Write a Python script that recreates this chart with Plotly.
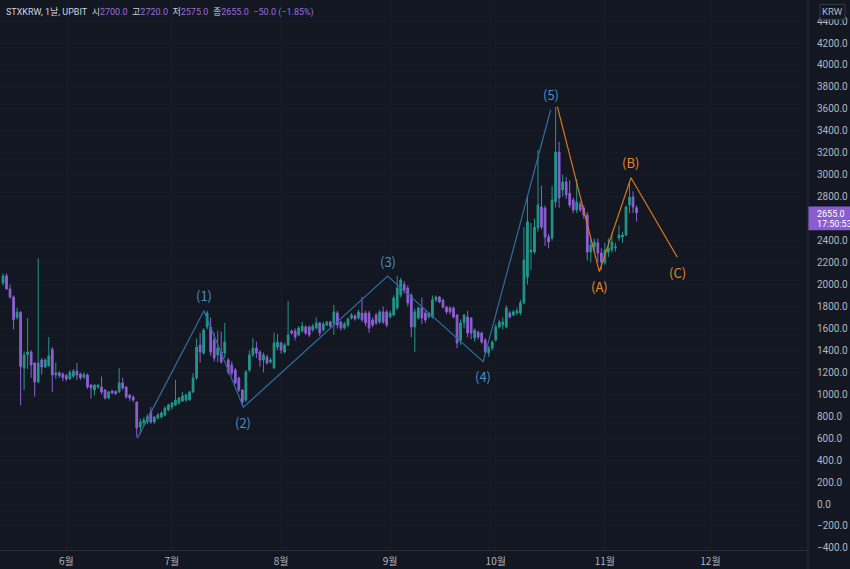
import pandas as pd
import plotly.graph_objects as go

# ---------------- data ----------------
start_date = "2023-05-14"

open_ = [2014, 2080, 1960, 1886, 1700, 1745, 1240, 1360, 1385, 1285,
         1112, 1312, 1248, 1260, 1410, 1175, 1195, 1185, 1170, 1140,
         1165, 1210, 1185, 1155, 1175, 1084, 1039, 1066, 1066, 1039,
         966, 1030, 1025, 1021, 1103, 1066, 993, 975, 929, 702,
         738, 747, 838, 747, 784, 793, 811, 857, 884, 902,
         920, 938, 948, 948, 1021, 1148, 1449, 1375, 1613, 1613,
         1494, 1358, 1385, 1376, 1312, 1267, 1221, 1148, 1039, 948,
         1221, 1358, 1421, 1385, 1312, 1340, 1294, 1240, 1430, 1467,
         1385, 1449, 1576, 1576, 1540, 1576, 1613, 1613, 1585, 1604,
         1649, 1585, 1631, 1658, 1649, 1740, 1658, 1604, 1631, 1695,
         1713, 1695, 1740, 1740, 1740, 1677, 1722, 1658, 1750, 1750,
         1704, 1722, 1786, 1904, 2000, 1968, 1900, 1613, 1695, 1786,
         1740, 1704, 1704, 1859, 1886, 1859, 1795, 1786, 1786, 1722,
         1494, 1649, 1704, 1695, 1513, 1567, 1558, 1494, 1376, 1421,
         1494, 1613, 1631, 1613, 1740, 1722, 1740, 1740, 1832, 2068,
         2296, 2296, 2515, 2706, 2697, 2433, 2424, 2752, 3207, 2861,
         2934, 2830, 2770, 2679, 2734, 2697, 2633, 2296, 2342, 2380,
         2287, 2196, 2296, 2314, 2333, 2424, 2433, 2451, 2724, 2797,
         2700]

high = [2100, 2100, 2000, 1900, 1790, 1760, 1390, 1695, 1400, 1290,
        2240, 1330, 1330, 1520, 1430, 1290, 1210, 1200, 1185, 1220,
        1230, 1285, 1195, 1200, 1190, 1095, 1090, 1090, 1160, 1045,
        1030, 1040, 1035, 1240, 1150, 1075, 1000, 990, 935, 780,
        790, 820, 884, 800, 830, 845, 890, 915, 930, 1130,
        975, 1020, 1005, 1030, 1194, 1510, 1560, 1600, 1760, 1700,
        1560, 1580, 1570, 1650, 1330, 1300, 1240, 1160, 1045, 1220,
        1400, 1510, 1480, 1400, 1380, 1360, 1330, 1560, 1550, 1480,
        1470, 1850, 1590, 1600, 1620, 1660, 1630, 1625, 1640, 1700,
        1660, 1660, 1670, 1670, 1813, 1760, 1670, 1660, 1700, 1740,
        1730, 1770, 1886, 1760, 1760, 1700, 1740, 1770, 1800, 1770,
        1760, 1900, 2077, 2060, 2030, 1990, 1920, 1780, 1800, 1880,
        1760, 1750, 1900, 1900, 1895, 1870, 1805, 1800, 1800, 1730,
        1680, 1730, 1760, 1700, 1600, 1580, 1570, 1510, 1440, 1490,
        1640, 1680, 1700, 1810, 1760, 1770, 1790, 1860, 2524, 2816,
        2560, 2600, 3226, 2900, 2720, 2460, 2900, 3617, 3300, 3000,
        2980, 2950, 2790, 2960, 2760, 2720, 2660, 2420, 2420, 2420,
        2330, 2380, 2420, 2470, 2380, 2540, 2480, 2720, 2925, 2850,
        2720]

low = [1990, 1950, 1870, 1590, 1680, 900, 1040, 1230, 1150, 980,
       1100, 1180, 1240, 1250, 1020, 1140, 1150, 1120, 1120, 1130,
       1150, 1130, 1130, 1140, 1050, 960, 990, 1050, 1000, 950,
       955, 1000, 995, 1011, 1040, 960, 940, 930, 610, 640,
       720, 730, 730, 730, 770, 780, 800, 845, 860, 895,
       905, 930, 930, 940, 1011, 1130, 1290, 1360, 1590, 1350,
       1300, 1290, 1280, 1330, 1180, 1170, 1090, 1020, 893, 930,
       1200, 1340, 1330, 1250, 1200, 1270, 1280, 1230, 1400, 1370,
       1370, 1440, 1540, 1490, 1530, 1560, 1540, 1520, 1570, 1590,
       1530, 1570, 1620, 1600, 1540, 1600, 1580, 1590, 1610, 1680,
       1670, 1680, 1660, 1620, 1560, 1610, 1630, 1640, 1640, 1610,
       1690, 1710, 1770, 1880, 1920, 1800, 1520, 1385, 1680, 1640,
       1650, 1690, 1690, 1840, 1830, 1780, 1730, 1730, 1690, 1420,
       1450, 1600, 1520, 1500, 1480, 1500, 1460, 1370, 1340, 1400,
       1480, 1600, 1590, 1600, 1690, 1710, 1720, 1720, 1820, 2000,
       2130, 2280, 2480, 2500, 2350, 2330, 2400, 2700, 2700, 2800,
       2780, 2700, 2650, 2650, 2660, 2600, 2220, 2200, 2300, 2200,
       2130, 2180, 2250, 2290, 2300, 2400, 2380, 2440, 2650, 2650,
       2575]

close = [2078, 1960, 1886, 1680, 1750, 1250, 1358, 1385, 1267, 1112,
         1285, 1248, 1312, 1350, 1175, 1195, 1170, 1150, 1140, 1200,
         1210, 1175, 1150, 1180, 1066, 1057, 1084, 1084, 1021, 966,
         1021, 1011, 1005, 1103, 1057, 975, 966, 948, 693, 747,
         765, 793, 747, 793, 811, 829, 875, 902, 920, 948,
         966, 985, 993, 1021, 1148, 1430, 1385, 1585, 1740, 1385,
         1330, 1421, 1294, 1476, 1203, 1194, 1103, 1039, 929, 1203,
         1358, 1421, 1376, 1312, 1358, 1285, 1312, 1467, 1476, 1403,
         1449, 1540, 1558, 1522, 1604, 1622, 1558, 1540, 1622, 1649,
         1558, 1640, 1658, 1622, 1750, 1631, 1604, 1640, 1686, 1722,
         1686, 1750, 1677, 1649, 1604, 1631, 1649, 1750, 1658, 1631,
         1740, 1877, 1968, 2041, 1950, 1832, 1613, 1750, 1786, 1695,
         1677, 1740, 1859, 1886, 1841, 1795, 1750, 1750, 1704, 1467,
         1649, 1722, 1558, 1558, 1585, 1522, 1476, 1385, 1421, 1476,
         1613, 1658, 1658, 1786, 1704, 1750, 1760, 1832, 2223, 2570,
         2314, 2524, 2724, 2524, 2433, 2387, 2770, 3207, 2788, 2934,
         2816, 2724, 2679, 2752, 2679, 2633, 2296, 2360, 2387, 2287,
         2205, 2314, 2333, 2387, 2342, 2451, 2451, 2706, 2797, 2705,
         2655]

# Elliott wave annotation points
impulse_times = ["2023-06-21 04:00", "2023-07-10 02:00", "2023-07-21 07:00",
                 "2023-08-31 07:00", "2023-09-27 10:00", "2023-10-16 14:00"]
impulse_prices = [598, 1761, 881, 2077, 1297, 3590]
impulse_labels = ["", "(1)", "(2)", "(3)", "(4)", "(5)"]
impulse_pos = [0, 1, -1, 1, -1, 1]

corr_times = ["2023-10-18 12:00", "2023-10-30 10:00", "2023-11-08 10:00", "2023-11-21 14:00"]
corr_prices = [3620, 2117, 2973, 2248]
corr_labels = ["", "(A)", "(B)", "(C)"]
corr_pos = [0, -1, 1, -1]

month_ticks = ["2023-06-01", "2023-07-01", "2023-08-01", "2023-09-01",
               "2023-10-01", "2023-11-01", "2023-12-01"]
month_text = ["6월", "7월", "8월", "9월", "10월", "11월", "12월"]

# 2600 is hidden behind the last-price badge in the original
price_ticks = [v for v in range(-400, 4401, 200) if v != 2600]
countdown = "17:50:53"

# ---------------- styling ----------------
BG = "#131722"
UP = "#22968a"
DOWN = "#8c5fd6"
BLUE_LINE = "#2f6d9c"
BLUE_TXT = "#4a8fc6"
ORANGE_LINE = "#d9761a"
ORANGE_TXT = "#e8871e"
TXT = "#b2b5be"
FONT = "Noto Sans CJK KR, Noto Sans, sans-serif"
HFONT = "Roboto, Noto Sans CJK KR, sans-serif"

dates = pd.date_range(start_date, periods=len(close), freq="D")
high_f = [max(h, o, c) for h, o, c in zip(high, open_, close)]
low_f = [min(l, o, c) for l, o, c in zip(low, open_, close)]

fig = go.Figure()
fig.add_trace(go.Candlestick(
    x=dates, open=open_, high=high_f, low=low_f, close=close,
    increasing=dict(line=dict(color=UP, width=1), fillcolor=UP),
    decreasing=dict(line=dict(color=DOWN, width=1), fillcolor=DOWN),
    whiskerwidth=0, showlegend=False, hoverinfo="skip"))

fig.add_trace(go.Scatter(x=impulse_times, y=impulse_prices, mode="lines",
                         line=dict(color=BLUE_LINE, width=1.2), showlegend=False,
                         hoverinfo="skip"))
fig.add_trace(go.Scatter(x=corr_times, y=corr_prices, mode="lines",
                         line=dict(color=ORANGE_LINE, width=1.2), showlegend=False,
                         hoverinfo="skip"))

annotations = []
for t, p, lab, pos in zip(impulse_times, impulse_prices, impulse_labels, impulse_pos):
    if lab:
        annotations.append(dict(x=t, y=p, text=lab, showarrow=False,
                                yshift=15 * pos, font=dict(color=BLUE_TXT, size=13, family=FONT)))
for t, p, lab, pos in zip(corr_times, corr_prices, corr_labels, corr_pos):
    if lab:
        annotations.append(dict(x=t, y=p, text=lab, showarrow=False,
                                yshift=15 * pos, font=dict(color=ORANGE_TXT, size=13, family=FONT)))

# header
pv = "#9a6ddc"
chg = close[-1] - close[-2]
pct = chg / close[-2] * 100
sp = "&nbsp; "
header = (f"<span style='color:#d1d4dc'>STXKRW, 1날, UPBIT</span>{sp}"
          f"<span style='color:#d1d4dc'>시</span><span style='color:{pv}'>{open_[-1]:.1f}</span>{sp}"
          f"<span style='color:#d1d4dc'>고</span><span style='color:{pv}'>{high[-1]:.1f}</span>{sp}"
          f"<span style='color:#d1d4dc'>저</span><span style='color:{pv}'>{low[-1]:.1f}</span>{sp}"
          f"<span style='color:#d1d4dc'>종</span><span style='color:{pv}'>{close[-1]:.1f}</span>{sp}"
          f"<span style='color:{pv}'>−{abs(chg):.1f} (−{abs(pct):.2f}%)</span>")
annotations.append(dict(xref="paper", yref="paper", x=0, y=1, xanchor="left", yanchor="top",
                        xshift=4, yshift=-5, text=header, showarrow=False,
                        font=dict(size=9, family=HFONT, color="#d1d4dc")))

# last price badge (two separate lines)
annotations.append(dict(xref="paper", yref="y", x=1, y=close[-1], xanchor="left",
                        yanchor="middle", xshift=7, yshift=-1,
                        text=f"{close[-1]:.1f}", showarrow=False,
                        font=dict(size=9, family=HFONT, color="#ffffff")))
annotations.append(dict(xref="paper", yref="y", x=1, y=close[-1], xanchor="left",
                        yanchor="middle", xshift=7, yshift=-11,
                        text=countdown, showarrow=False,
                        font=dict(size=9, family=HFONT, color="#ffffff")))
# KRW badge
annotations.append(dict(xref="paper", yref="paper", x=1.0303, y=0.979, xanchor="center",
                        yanchor="middle", text="KRW", showarrow=False,
                        font=dict(size=9.5, family=HFONT, color=TXT)))

shapes = [
    dict(type="rect", xref="paper", yref="y", x0=1, x1=1.06,
         y0=close[-1] - 160, y1=close[-1] + 55, fillcolor="#8a5cd2", line=dict(width=0), layer="above"),
    dict(type="rect", xref="paper", yref="paper", x0=1.0149, x1=1.0458, y0=0.965, y1=0.992,
         fillcolor=BG, line=dict(color="#363a45", width=1), layer="above"),
    dict(type="line", xref="paper", yref="paper", x0=1, x1=1, y0=-0.04, y1=1,
         line=dict(color="#2a2e39", width=1)),
]

fig.update_layout(
    width=850, height=569,
    margin=dict(l=0, r=42, t=0, b=19),
    paper_bgcolor=BG, plot_bgcolor=BG,
    font=dict(family=HFONT, color=TXT, size=10.5),
    annotations=annotations, shapes=shapes,
    xaxis=dict(type="date", range=["2023-05-13 03:30", "2023-12-28 17:00"],
               rangeslider=dict(visible=False),
               tickvals=month_ticks, ticktext=month_text,
               showgrid=True, gridcolor="#171b26",
               showline=True, linecolor="#2a2e39", zeroline=False,
               ticks="", ticklabelstandoff=2,
               tickfont=dict(size=10, color=TXT, family=FONT)),
    yaxis=dict(side="right", range=[-419, 4592],
               tickvals=price_ticks, tickformat=".1f",
               showgrid=True, gridcolor="#171b26",
               showline=False, zeroline=False, ticks="", ticklabelstandoff=8,
               tickfont=dict(size=10, color=TXT, family=HFONT)),
    hovermode=False,
)

fig.write_html("out.html")
